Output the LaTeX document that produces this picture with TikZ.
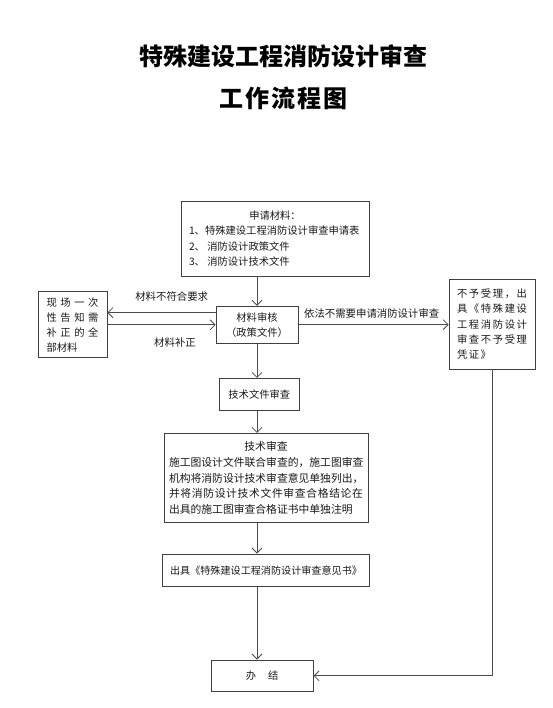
\documentclass[tikz,border=0pt]{standalone}
\usepackage{fontspec}
\setmainfont{Noto Sans CJK SC}
\usetikzlibrary{arrows.meta,calc}
\begin{document}
\begin{tikzpicture}[x=1pt,y=-1pt,
  box/.style={draw=black!75, line width=0.8pt, rectangle, inner sep=0pt, text=black!90},
  arr/.style={draw=black!70, line width=0.8pt, -{Straight Barb[length=5pt,width=10pt]}},
  lbl/.style={font=\fontsize{10.4}{12}\selectfont, text=black!90, inner sep=0pt},
  body/.style={font=\fontsize{10.3}{15.5}\selectfont}]
\useasboundingbox[fill=white] (0,0) rectangle (552,708);
\node[inner sep=0pt, align=center, font=\fontsize{24}{41.6}\selectfont\bfseries] (title) at (283.5,77.5) {特殊建设工程消防设计审查\\\hbox{工\hspace{2pt}作\hspace{2pt}流\hspace{2pt}程\hspace{2pt}图}};

\node[box, minimum width=188pt, minimum height=75pt, body, align=left] (apply) at (275,238.5)
  {\makebox[172pt]{申请材料：}\\1、特殊建设工程消防设计审查申请表\\2、 消防设计政策文件\\3、 消防设计技术文件};

\node[box, minimum width=69pt, minimum height=66pt, font=\fontsize{10.3}{15}\selectfont, align=left] (xc) at (72.5,324.8)
  {\hbox to 52pt{现\hfil 场\hfil 一\hfil 次}\\\hbox to 52pt{性\hfil 告\hfil 知\hfil 需}\\\hbox to 52pt{补\hfil 正\hfil 的\hfil 全}\\部材料};

\node[box, minimum width=82pt, minimum height=37pt, font=\fontsize{10.3}{15}\selectfont, align=center] (rev) at (257,324.7)
  {材料审核\\（政策文件）};

\node[box, minimum width=86pt, minimum height=90pt, font=\fontsize{10.3}{15.2}\selectfont, align=left] (nbs) at (492,324.2)
  {\hbox to 70pt{不\hfil 予\hfil 受\hfil 理\hfil ，\hfil 出}\\\hbox to 70pt{具\hfil 《\hfil 特\hfil 殊\hfil 建\hfil 设}\\\hbox to 70pt{工\hfil 程\hfil 消\hfil 防\hfil 设\hfil 计}\\\hbox to 70pt{审\hfil 查\hfil 不\hfil 予\hfil 受\hfil 理}\\凭\hspace{1.5pt}证\hspace{1.5pt}》};

\node[box, minimum width=80pt, minimum height=32.4pt, body] (tech1) at (259.3,394.5) {技术文件审查};

\node[box, minimum width=204pt, minimum height=89.4pt, font=\fontsize{10.8}{15.8}\selectfont, align=left] (tech2) at (266.2,478)
  {\makebox[194pt]{技术审查}\\施工图设计文件联合审查的，施工图审查\\机构将消防设计技术审查意见单独列出，\\\hbox to 194pt{并\hfil 将\hfil 消\hfil 防\hfil 设\hfil 计\hfil 技\hfil 术\hfil 文\hfil 件\hfil 审\hfil 查\hfil 合\hfil 格\hfil 结\hfil 论\hfil 在}\\出具的施工图审查合格证书中单独注明};

\node[box, minimum width=206.6pt, minimum height=32.7pt, font=\fontsize{10.1}{12}\selectfont] (issue) at (266,570.3) {出具《特殊建设工程消防设计审查意见书》};

\node[box, minimum width=102pt, minimum height=31.7pt, body] (fin) at (262.2,675.8) {办\hspace{12pt}结};

\node[lbl] (l1) at (171.7,296.7) {材料不符合要求};
\node[lbl] (l2) at (175,342.7) {材料补正};
\node[lbl] (l3) at (371.7,313.3) {依法不需要申请消防设计审查};

\draw[arr] (rev.north |- apply.south) -- (rev.north);
\draw[arr] ([yshift=12pt]rev.west) -- ([yshift=12pt]rev.west -| xc.east);
\draw[arr] (xc.east) -- (xc.east -| rev.west);
\draw[arr] (rev.east) -- (rev.east -| nbs.west);
\draw[arr] (rev.south) -- (rev.south |- tech1.north);
\draw[arr] (rev.south |- tech1.south) -- (rev.south |- tech2.north);
\draw[arr] (rev.south |- tech2.south) -- (rev.south |- issue.north);
\draw[arr] (rev.south |- issue.south) -- (rev.south |- fin.north);
\draw[arr] (nbs.south) |- (fin.east);
\end{tikzpicture}
\end{document}
